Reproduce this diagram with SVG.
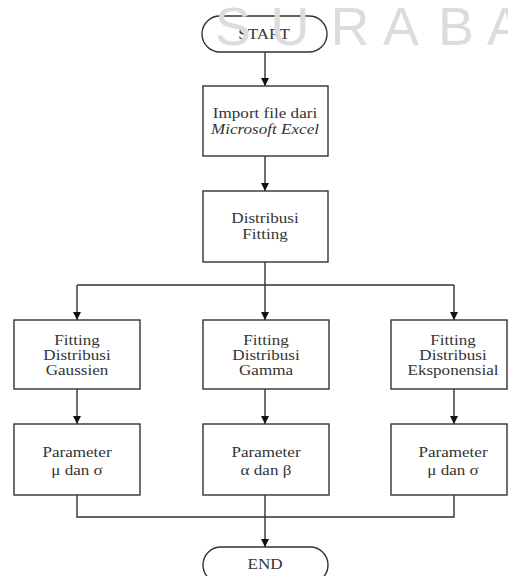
<svg xmlns="http://www.w3.org/2000/svg" width="508" height="576" viewBox="0 0 508 576">
<style>
.n{fill:#fff;stroke:#333;stroke-width:1.4}
.t{font-family:"Liberation Serif","Times New Roman",serif;font-size:14px;fill:#333;text-anchor:middle;dominant-baseline:central}
.c{fill:none;stroke:#333;stroke-width:1.4}
.w{font-family:"Liberation Sans",Arial,sans-serif;font-size:54px;fill:#dcdcdc;text-anchor:middle}
</style>
<defs>
<marker id="a" viewBox="0 0 10 10" refX="10" refY="5" markerWidth="8" markerHeight="8" markerUnits="userSpaceOnUse" orient="auto">
<path d="M0,0L10,5L0,10Z" fill="#111"/>
</marker>
</defs>
<rect width="508" height="576" fill="#fff"/>
<g id="connectors">
<path class="c" d="M265,52V86" marker-end="url(#a)"/>
<path class="c" d="M265,156V191" marker-end="url(#a)"/>
<path class="c" d="M265,262V320" marker-end="url(#a)"/>
<path class="c" d="M77,285H454"/>
<path class="c" d="M77,285V320" marker-end="url(#a)"/>
<path class="c" d="M454,285V320" marker-end="url(#a)"/>
<path class="c" d="M77,389V424" marker-end="url(#a)"/>
<path class="c" d="M265,389V424" marker-end="url(#a)"/>
<path class="c" d="M454,389V424" marker-end="url(#a)"/>
<path class="c" d="M77,495V517H454V495"/>
<path class="c" d="M265,495V547" marker-end="url(#a)"/>
</g>
<g id="start">
<rect class="n" x="202" y="16" width="125" height="36" rx="18"/>
<text class="t" transform="translate(264,34) scale(1.22,1)">START</text>
</g>
<g id="import">
<rect class="n" x="203" y="86" width="125" height="70"/>
<text class="t" transform="translate(265,113) scale(1.22,1)">Import file dari</text>
<text class="t" transform="translate(265,129) scale(1.22,1)" font-style="italic">Microsoft Excel</text>
</g>
<g id="distribusi">
<rect class="n" x="203" y="191" width="125" height="71"/>
<text class="t" transform="translate(265,218) scale(1.22,1)">Distribusi</text>
<text class="t" transform="translate(265,234) scale(1.22,1)">Fitting</text>
</g>
<g id="gaussien">
<rect class="n" x="14" y="320" width="126" height="69"/>
<text class="t" transform="translate(77,340) scale(1.22,1)">Fitting</text>
<text class="t" transform="translate(77,355) scale(1.22,1)">Distribusi</text>
<text class="t" transform="translate(77,370) scale(1.22,1)">Gaussien</text>
</g>
<g id="gamma">
<rect class="n" x="203" y="320" width="126" height="69"/>
<text class="t" transform="translate(266,340) scale(1.22,1)">Fitting</text>
<text class="t" transform="translate(266,355) scale(1.22,1)">Distribusi</text>
<text class="t" transform="translate(266,370) scale(1.22,1)">Gamma</text>
</g>
<g id="eksponensial">
<rect class="n" x="391" y="320" width="116" height="69"/>
<text class="t" transform="translate(453,340) scale(1.22,1)">Fitting</text>
<text class="t" transform="translate(453,355) scale(1.22,1)">Distribusi</text>
<text class="t" transform="translate(453,370) scale(1.22,1)">Eksponensial</text>
</g>
<g id="param1">
<rect class="n" x="14" y="424" width="126" height="71"/>
<text class="t" transform="translate(77,452) scale(1.22,1)">Parameter</text>
<text class="t" transform="translate(77,470) scale(1.22,1)">μ dan σ</text>
</g>
<g id="param2">
<rect class="n" x="203" y="424" width="126" height="71"/>
<text class="t" transform="translate(266,452) scale(1.22,1)">Parameter</text>
<text class="t" transform="translate(266,470) scale(1.22,1)">α dan β</text>
</g>
<g id="param3">
<rect class="n" x="391" y="424" width="116" height="71"/>
<text class="t" transform="translate(453,452) scale(1.22,1)">Parameter</text>
<text class="t" transform="translate(453,470) scale(1.22,1)">μ dan σ</text>
</g>
<g id="end">
<rect class="n" x="203" y="547" width="125" height="36" rx="18"/>
<text class="t" transform="translate(265,564) scale(1.22,1)">END</text>
</g>
<g id="watermark">
<text class="w" x="233" y="45">S</text>
<text class="w" x="290" y="45">U</text>
<text class="w" x="350" y="45">R</text>
<text class="w" x="401" y="45">A</text>
<text class="w" x="456" y="45">B</text>
<text class="w" x="505" y="45">A</text>
</g>
</svg>
